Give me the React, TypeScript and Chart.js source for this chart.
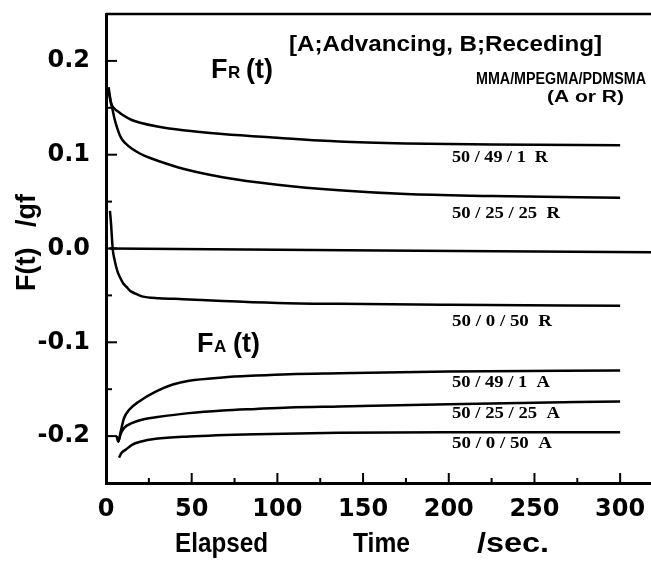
import React, { useEffect, useRef } from 'react';
import { Chart, registerables } from 'chart.js';
Chart.register(...registerables);

// ---- axis ticks ----
const X_TICKS = [0, 50, 100, 150, 200, 250, 300];
const X_MINOR = [25, 75, 125, 175, 225, 275];
const Y_TICKS = [-0.2, -0.1, 0, 0.1, 0.2];
const Y_MINOR = [-0.15, -0.05, 0.05, 0.15];

// ---- series (time in sec, force in gf) ----
const R_49_1_T = [1.5, 3, 5, 7, 10, 15, 20, 30, 45, 68, 100, 136, 175, 225, 300];
const R_49_1_V = [0.172, 0.155, 0.149, 0.146, 0.142, 0.137, 0.134, 0.130, 0.126, 0.122, 0.118, 0.114, 0.112, 0.111, 0.110];

const R_25_25_T = [1.5, 2.5, 3.7, 5, 6.6, 8, 9.5, 12, 15.4, 20, 25, 31, 45, 68, 100, 136, 175, 225, 300];
const R_25_25_V = [0.168, 0.158, 0.149, 0.138, 0.128, 0.121, 0.116, 0.111, 0.106, 0.101, 0.097, 0.093, 0.085, 0.076, 0.068, 0.062, 0.058, 0.056, 0.054];

const ZERO_T = [2, 318];
const ZERO_V = [0.0, -0.004];

const R_0_50_T = [2.3, 3, 3.5, 4, 5, 6, 7, 8.5, 10, 12, 14, 17, 21, 31, 45, 68, 100, 136, 200, 300];
const R_0_50_V = [0.040, 0.025, 0.010, -0.002, -0.012, -0.020, -0.026, -0.032, -0.037, -0.041, -0.045, -0.048, -0.051, -0.053, -0.054, -0.056, -0.058, -0.059, -0.060, -0.061];

const A_49_1_T = [6.2, 7.2, 8.6, 10.5, 13.5, 19.3, 29, 39, 48.5, 68, 87.5, 107, 136, 200, 300];
const A_49_1_V = [-0.200, -0.206, -0.195, -0.181, -0.172, -0.163, -0.1525, -0.145, -0.141, -0.1375, -0.1355, -0.134, -0.133, -0.131, -0.130];

const A_25_25_T = [7.2, 8.5, 10.5, 15.4, 22, 29, 48.5, 68, 87.5, 107, 136, 200, 250, 300];
const A_25_25_V = [-0.206, -0.198, -0.1915, -0.186, -0.182, -0.180, -0.1755, -0.1727, -0.171, -0.1695, -0.1684, -0.166, -0.1645, -0.163];

const A_0_50_T = [7.6, 9, 11.5, 15.4, 20, 29, 48.5, 87.5, 136, 200, 300];
const A_0_50_V = [-0.223, -0.218, -0.2145, -0.209, -0.206, -0.2028, -0.2003, -0.1979, -0.1965, -0.196, -0.196];

const SERIES_LABELS = ['50 / 49 / 1  R', '50 / 25 / 25  R', '50 / 0 / 50  R', '50 / 49 / 1  A', '50 / 25 / 25  A', '50 / 0 / 50  A'];
const HEADER = '[A;Advancing, B;Receding]';
const LEGEND_TITLE = 'MMA/MPEGMA/PDMSMA';
const LEGEND_SUB = '(A or R)';
const X_TITLE_WORDS = ['Elapsed', 'Time', '/sec.'];
const Y_TITLE_WORDS = ['F(t)', '/gf'];

const toXY = (t: number[], v: number[]) => t.map((x, i) => ({ x, y: v[i] }));

const SANS = '"Liberation Sans", Arial, sans-serif';
const SERIF = '"Liberation Serif", "Times New Roman", serif';
const TICKFONT = '"DejaVu Sans", sans-serif';

function drawFit(ctx: CanvasRenderingContext2D, s: string, x: number, y: number, font: string, align: CanvasTextAlign, targetW?: number) {
  ctx.save();
  ctx.font = font;
  ctx.fillStyle = '#000';
  ctx.textAlign = align;
  ctx.textBaseline = 'alphabetic';
  const w = ctx.measureText(s).width;
  const sx = targetW ? targetW / w : 1;
  ctx.translate(x, y);
  ctx.scale(sx, 1);
  ctx.fillText(s, 0, 0);
  ctx.restore();
}

const decorPlugin = {
  id: 'decor',
  afterDraw(chart: any) {
    const { ctx, chartArea } = chart;
    const xs = chart.scales.x;
    const ys = chart.scales.y;
    ctx.save();
    ctx.strokeStyle = '#000';
    // top frame line
    ctx.lineWidth = 2.5;
    ctx.beginPath();
    ctx.moveTo(chartArea.left, chartArea.top);
    ctx.lineTo(chart.width, chartArea.top);
    ctx.stroke();
    // inward tick marks
    ctx.lineWidth = 2;
    const L = chartArea.left;
    const B = chartArea.bottom;
    Y_TICKS.forEach((v) => {
      const p = ys.getPixelForValue(v);
      ctx.beginPath(); ctx.moveTo(L, p); ctx.lineTo(L + 11, p); ctx.stroke();
    });
    Y_MINOR.forEach((v) => {
      const p = ys.getPixelForValue(v);
      ctx.beginPath(); ctx.moveTo(L, p); ctx.lineTo(L + 6, p); ctx.stroke();
    });
    X_TICKS.forEach((v) => {
      const p = xs.getPixelForValue(v);
      ctx.beginPath(); ctx.moveTo(p, B); ctx.lineTo(p, B - 10); ctx.stroke();
    });
    X_MINOR.forEach((v) => {
      const p = xs.getPixelForValue(v);
      ctx.beginPath(); ctx.moveTo(p, B); ctx.lineTo(p, B - 5); ctx.stroke();
    });
    ctx.restore();

    // header
    drawFit(ctx, HEADER, 289, 51, `bold 22px ${SANS}`, 'left', 313);
    // F_R (t)
    drawFit(ctx, 'F', 211, 78, `bold 27px ${SANS}`, 'left');
    drawFit(ctx, 'R', 228, 78, `bold 17px ${SANS}`, 'left');
    drawFit(ctx, '(t)', 246, 78, `bold 27px ${SANS}`, 'left');
    // F_A (t)
    drawFit(ctx, 'F', 197, 352, `bold 27px ${SANS}`, 'left');
    drawFit(ctx, 'A', 214, 352, `bold 17px ${SANS}`, 'left');
    drawFit(ctx, '(t)', 233, 352, `bold 27px ${SANS}`, 'left');
    // legend title
    drawFit(ctx, LEGEND_TITLE, 646, 84, `bold 16px ${SANS}`, 'right', 170);
    drawFit(ctx, LEGEND_SUB, 624, 102, `bold 16px ${SANS}`, 'right', 77);
    // series labels
    const baselines = [162, 218, 326, 387, 418, 448];
    const widths = [96, 108, 100, 98, 108, 100];
    SERIES_LABELS.forEach((s, i) => {
      drawFit(ctx, s, 452, baselines[i], `bold 16px ${SERIF}`, 'left', widths[i]);
    });
    // x title
    const xPos = [175, 353, 477];
    const xW = [93, 57, 72];
    X_TITLE_WORDS.forEach((w, i) => drawFit(ctx, w, xPos[i], 552, `bold 27px ${SANS}`, 'left', xW[i]));
    // y title (rotated)
    ctx.save();
    ctx.translate(35, 0);
    ctx.rotate(-Math.PI / 2);
    const yPos = [-291, -227];
    Y_TITLE_WORDS.forEach((w, i) => drawFit(ctx, w, yPos[i], 0, `bold 27px ${SANS}`, 'left'));
    ctx.restore();
  },
};

export default function App() {
  const ref = useRef<HTMLCanvasElement>(null);
  useEffect(() => {
    if (!ref.current) return;
    const line = (d: { x: number; y: number }[]) => ({
      data: d,
      borderColor: '#000',
      borderWidth: 2.5,
      pointRadius: 0,
      fill: false,
      cubicInterpolationMode: 'monotone' as const,
    });
    const chart = new Chart(ref.current, {
      type: 'line',
      data: {
        datasets: [
          line(toXY(R_49_1_T, R_49_1_V)),
          line(toXY(R_25_25_T, R_25_25_V)),
          line(toXY(ZERO_T, ZERO_V)),
          line(toXY(R_0_50_T, R_0_50_V)),
          line(toXY(A_49_1_T, A_49_1_V)),
          line(toXY(A_25_25_T, A_25_25_V)),
          line(toXY(A_0_50_T, A_0_50_V)),
        ],
      },
      options: {
        responsive: false,
        animation: false,
        layout: { padding: { top: 14, left: 0, right: 0, bottom: 0 } },
        plugins: { legend: { display: false }, tooltip: { enabled: false } },
        scales: {
          x: {
            type: 'linear',
            min: 0,
            max: 318,
            afterBuildTicks: (s: any) => { s.ticks = X_TICKS.map((v) => ({ value: v })); },
            afterFit: (s: any) => { s.height = 84; s.paddingLeft = 0; s.paddingRight = 0; s.paddingTop = 0; s.paddingBottom = 0; },
            grid: { display: false, drawTicks: false },
            border: { display: true, color: '#000', width: 3 },
            ticks: {
              autoSkip: false,
              maxRotation: 0,
              padding: 12,
              color: '#000',
              font: { family: TICKFONT, weight: 'bold', size: 24 },
              callback: (v: any) => String(v),
            },
          },
          y: {
            type: 'linear',
            min: -0.25,
            max: 0.25,
            afterBuildTicks: (s: any) => { s.ticks = Y_TICKS.map((v) => ({ value: v })); },
            afterFit: (s: any) => { s.width = 106; s.paddingLeft = 0; s.paddingRight = 0; s.paddingTop = 0; s.paddingBottom = 0; },
            grid: { display: false, drawTicks: false },
            border: { display: true, color: '#000', width: 3 },
            ticks: {
              padding: 16,
              color: '#000',
              font: { family: TICKFONT, weight: 'bold', size: 24 },
              callback: (v: any) => Number(v).toFixed(1),
            },
          },
        },
      },
      plugins: [decorPlugin],
    } as any);
    return () => chart.destroy();
  }, []);
  return (
    <div style={{ position: 'fixed', left: 0, top: 0, width: 651, height: 567, background: '#fff' }}>
      <canvas ref={ref} width={651} height={567} style={{ width: 651, height: 567 }} />
    </div>
  );
}
